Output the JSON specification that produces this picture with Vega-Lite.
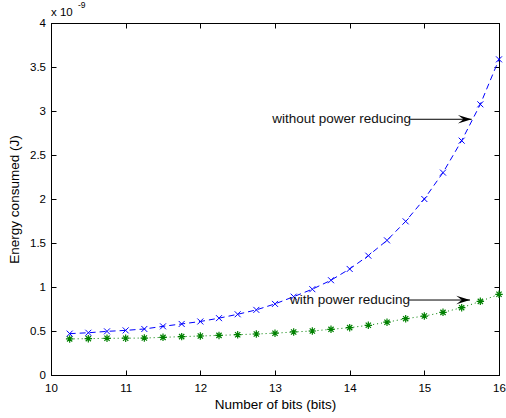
{
  "$schema": "https://vega.github.io/schema/vega-lite/v6.json",
  "width": 448,
  "height": 352,
  "autosize": {"type": "none"},
  "padding": {"left": 51, "top": 23, "right": 7, "bottom": 43},
  "background": "white",
  "config": {
    "font": "Liberation Sans",
    "view": {"stroke": "black", "strokeWidth": 1},
    "axis": {
      "grid": false,
      "domainColor": "black",
      "domainWidth": 1,
      "tickColor": "black",
      "tickWidth": 1,
      "tickSize": -5,
      "labelColor": "black",
      "labelFontSize": 11.5,
      "labelFlush": false,
      "titleColor": "black",
      "titleFontSize": 13.5,
      "titleFontWeight": "normal",
      "zindex": 1
    }
  },
  "datasets": {
    "series": [
      {"bits": 10.25, "energy": 0.47, "method": "without"},
      {"bits": 10.5, "energy": 0.48, "method": "without"},
      {"bits": 10.75, "energy": 0.496, "method": "without"},
      {"bits": 11, "energy": 0.507, "method": "without"},
      {"bits": 11.25, "energy": 0.523, "method": "without"},
      {"bits": 11.5, "energy": 0.553, "method": "without"},
      {"bits": 11.75, "energy": 0.58, "method": "without"},
      {"bits": 12, "energy": 0.608, "method": "without"},
      {"bits": 12.25, "energy": 0.646, "method": "without"},
      {"bits": 12.5, "energy": 0.69, "method": "without"},
      {"bits": 12.75, "energy": 0.74, "method": "without"},
      {"bits": 13, "energy": 0.808, "method": "without"},
      {"bits": 13.25, "energy": 0.89, "method": "without"},
      {"bits": 13.5, "energy": 0.975, "method": "without"},
      {"bits": 13.75, "energy": 1.077, "method": "without"},
      {"bits": 14, "energy": 1.205, "method": "without"},
      {"bits": 14.25, "energy": 1.356, "method": "without"},
      {"bits": 14.5, "energy": 1.53, "method": "without"},
      {"bits": 14.75, "energy": 1.746, "method": "without"},
      {"bits": 15, "energy": 2.0, "method": "without"},
      {"bits": 15.25, "energy": 2.3, "method": "without"},
      {"bits": 15.5, "energy": 2.663, "method": "without"},
      {"bits": 15.75, "energy": 3.076, "method": "without"},
      {"bits": 16, "energy": 3.587, "method": "without"},
      {"bits": 10.25, "energy": 0.41, "method": "with"},
      {"bits": 10.5, "energy": 0.413, "method": "with"},
      {"bits": 10.75, "energy": 0.417, "method": "with"},
      {"bits": 11, "energy": 0.418, "method": "with"},
      {"bits": 11.25, "energy": 0.42, "method": "with"},
      {"bits": 11.5, "energy": 0.428, "method": "with"},
      {"bits": 11.75, "energy": 0.436, "method": "with"},
      {"bits": 12, "energy": 0.443, "method": "with"},
      {"bits": 12.25, "energy": 0.45, "method": "with"},
      {"bits": 12.5, "energy": 0.458, "method": "with"},
      {"bits": 12.75, "energy": 0.466, "method": "with"},
      {"bits": 13, "energy": 0.475, "method": "with"},
      {"bits": 13.25, "energy": 0.489, "method": "with"},
      {"bits": 13.5, "energy": 0.5, "method": "with"},
      {"bits": 13.75, "energy": 0.519, "method": "with"},
      {"bits": 14, "energy": 0.538, "method": "with"},
      {"bits": 14.25, "energy": 0.565, "method": "with"},
      {"bits": 14.5, "energy": 0.6, "method": "with"},
      {"bits": 14.75, "energy": 0.64, "method": "with"},
      {"bits": 15, "energy": 0.67, "method": "with"},
      {"bits": 15.25, "energy": 0.712, "method": "with"},
      {"bits": 15.5, "energy": 0.765, "method": "with"},
      {"bits": 15.75, "energy": 0.837, "method": "with"},
      {"bits": 16, "energy": 0.917, "method": "with"}
    ],
    "notes": [
      {"label": "without power reducing", "start": 14.81, "tip": 15.634, "level": 2.906},
      {"label": "with power reducing", "start": 14.795, "tip": 15.612, "level": 0.852}
    ],
    "exponent": [
      {"bits": 10, "energy": 4, "base": "x 10", "power": "-9"}
    ]
  },
  "resolve": {"axis": {"x": "independent", "y": "independent"}},
  "layer": [
    {
      "data": {"name": "series"},
      "transform": [{"filter": "datum.method === 'without'"}],
      "mark": {"type": "line", "color": "#0000ff", "strokeWidth": 1, "strokeDash": [6, 4]},
      "encoding": {
        "x": {
          "field": "bits", "type": "quantitative",
          "scale": {"domain": [10, 16], "nice": false},
          "axis": {"orient": "bottom", "values": [10, 11, 12, 13, 14, 15, 16], "format": "d", "title": "Number of bits (bits)", "labelPadding": 12.5, "titlePadding": 3}
        },
        "y": {
          "field": "energy", "type": "quantitative",
          "scale": {"domain": [0, 4], "nice": false},
          "axis": {"orient": "left", "values": [0, 0.5, 1, 1.5, 2, 2.5, 3, 3.5, 4], "format": "~g", "title": "Energy consumed (J)", "labelPadding": 10.5, "titlePadding": 8}
        }
      }
    },
    {
      "data": {"name": "series"},
      "transform": [{"filter": "datum.method === 'without'"}],
      "mark": {"type": "point", "shape": "M-1,-1L1,1M-1,1L1,-1", "filled": false, "stroke": "#0000ff", "strokeWidth": 1, "size": 36, "opacity": 1},
      "encoding": {
        "x": {"field": "bits", "type": "quantitative", "axis": {"orient": "top", "labels": false, "title": null, "values": [10, 11, 12, 13, 14, 15, 16]}},
        "y": {"field": "energy", "type": "quantitative", "axis": {"orient": "right", "labels": false, "title": null, "values": [0, 0.5, 1, 1.5, 2, 2.5, 3, 3.5, 4]}}
      }
    },
    {
      "data": {"name": "series"},
      "transform": [{"filter": "datum.method === 'with'"}],
      "mark": {"type": "line", "color": "#008000", "strokeWidth": 1, "strokeDash": [1, 3]},
      "encoding": {
        "x": {"field": "bits", "type": "quantitative", "axis": {"orient": "bottom", "labels": false, "ticks": false, "domain": false, "title": null}},
        "y": {"field": "energy", "type": "quantitative", "axis": {"orient": "left", "labels": false, "ticks": false, "domain": false, "title": null}}
      }
    },
    {
      "data": {"name": "series"},
      "transform": [{"filter": "datum.method === 'with'"}],
      "mark": {"type": "point", "shape": "M-1,0L1,0M0,-1L0,1M-0.7,-0.7L0.7,0.7M-0.7,0.7L0.7,-0.7", "filled": false, "stroke": "#008000", "strokeWidth": 1.2, "size": 56, "opacity": 1},
      "encoding": {
        "x": {"field": "bits", "type": "quantitative", "axis": {"orient": "bottom", "labels": false, "ticks": false, "domain": false, "title": null}},
        "y": {"field": "energy", "type": "quantitative", "axis": {"orient": "left", "labels": false, "ticks": false, "domain": false, "title": null}}
      }
    },
    {
      "data": {"name": "notes"},
      "mark": {"type": "rule", "color": "black", "strokeWidth": 1},
      "encoding": {
        "x": {"field": "start", "type": "quantitative", "axis": {"orient": "bottom", "labels": false, "ticks": false, "domain": false, "title": null}},
        "x2": {"field": "tip"},
        "y": {"field": "level", "type": "quantitative", "axis": {"orient": "left", "labels": false, "ticks": false, "domain": false, "title": null}}
      }
    },
    {
      "data": {"name": "notes"},
      "mark": {"type": "point", "shape": "M0,0L-2,-0.63L-1.2,0L-2,0.63Z", "filled": true, "color": "black", "size": 188, "opacity": 1, "strokeWidth": 0},
      "encoding": {
        "x": {"field": "tip", "type": "quantitative", "axis": {"orient": "bottom", "labels": false, "ticks": false, "domain": false, "title": null}},
        "y": {"field": "level", "type": "quantitative", "axis": {"orient": "left", "labels": false, "ticks": false, "domain": false, "title": null}}
      }
    },
    {
      "data": {"name": "notes"},
      "mark": {"type": "text", "align": "right", "baseline": "middle", "fontSize": 13.5, "color": "#111111", "dx": 1},
      "encoding": {
        "x": {"field": "start", "type": "quantitative", "axis": {"orient": "bottom", "labels": false, "ticks": false, "domain": false, "title": null}},
        "y": {"field": "level", "type": "quantitative", "axis": {"orient": "left", "labels": false, "ticks": false, "domain": false, "title": null}},
        "text": {"field": "label"}
      }
    },
    {
      "data": {"name": "exponent"},
      "mark": {"type": "text", "align": "left", "baseline": "middle", "fontSize": 11.5, "color": "black", "dx": 0, "dy": -10},
      "encoding": {
        "x": {"field": "bits", "type": "quantitative", "axis": {"orient": "bottom", "labels": false, "ticks": false, "domain": false, "title": null}},
        "y": {"field": "energy", "type": "quantitative", "axis": {"orient": "left", "labels": false, "ticks": false, "domain": false, "title": null}},
        "text": {"field": "base"}
      }
    },
    {
      "data": {"name": "exponent"},
      "mark": {"type": "text", "align": "left", "baseline": "middle", "fontSize": 8.5, "color": "black", "dx": 27, "dy": -18},
      "encoding": {
        "x": {"field": "bits", "type": "quantitative", "axis": {"orient": "bottom", "labels": false, "ticks": false, "domain": false, "title": null}},
        "y": {"field": "energy", "type": "quantitative", "axis": {"orient": "left", "labels": false, "ticks": false, "domain": false, "title": null}},
        "text": {"field": "power"}
      }
    }
  ]
}
